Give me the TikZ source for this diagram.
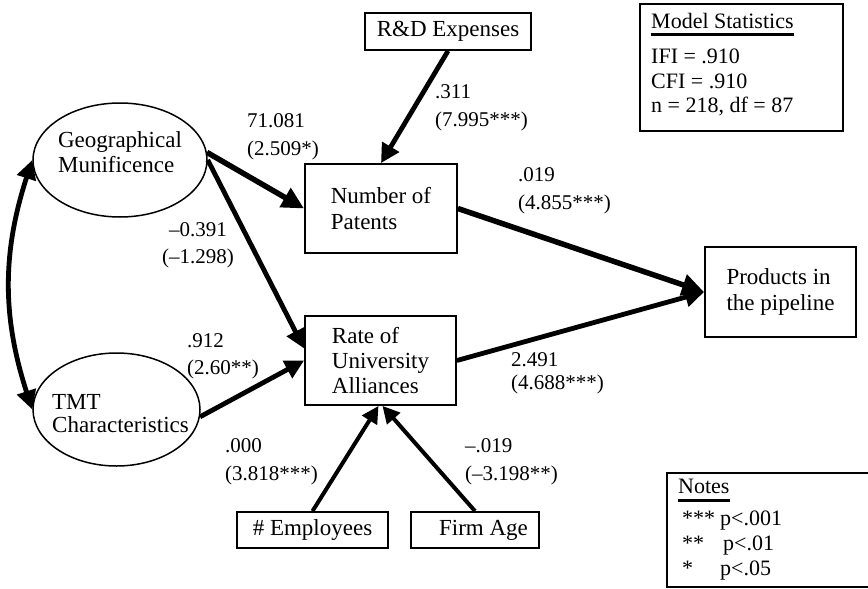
\documentclass[tikz,border=0pt]{standalone}
\usepackage{fontspec}
\setmainfont{Liberation Serif}
\usetikzlibrary{arrows.meta,shapes.geometric}

\begin{document}
\begin{tikzpicture}[x=1pt,y=-1pt,
  box/.style={draw, line width=1.8pt, inner sep=0pt, align=left,
              font=\fontsize{23}{26}\selectfont},
  oval/.style={draw, ellipse, line width=1.5pt, inner sep=0pt},
  ovaltext/.style={inner sep=0pt, align=left, font=\fontsize{23}{25}\selectfont},
  coef/.style={inner sep=0pt, align=left, anchor=north west,
               font=\fontsize{21}{28}\selectfont},
  stat/.style={inner sep=0pt, anchor=base west, font=\fontsize{22}{26}\selectfont},
  frame/.style={draw, line width=1.8pt, inner sep=0pt},
  bigarrow/.style={line width=5.5pt, -{Triangle[length=22pt,width=21pt]}},
  midarrow/.style={line width=4.8pt, -{Triangle[length=19pt,width=19pt]}},
  smallarrow/.style={line width=4pt, -{Triangle[length=17pt,width=17pt]}},
  bothends/.style={line width=4.8pt,
    {Triangle[length=19pt,width=19pt]}-{Triangle[length=19pt,width=19pt]}},
  underbar/.style={line width=3pt},
]
\useasboundingbox (0,0) rectangle (868,589);

% latent constructs
\node[oval, minimum width=174, minimum height=114] (geo) at (120,160) {};
\node[ovaltext] (geotxt) at (120,152) {Geographical\\Munificence};
\node[oval, minimum width=167, minimum height=113] (tmt) at (116.5,409.5) {};
\node[ovaltext, font=\fontsize{23}{23}\selectfont] (tmttxt) at (120.5,414)
  {TMT\\Characteristics};

% observed variables
\node[box, minimum width=166, minimum height=37] (rd) at (448,31.5) {R\&D Expenses};
\node[box, minimum width=152, minimum height=89] (pat) at (381,208.5) {Number of\\Patents};
\node[box, minimum width=151, minimum height=89, font=\fontsize{23}{25}\selectfont]
  (rate) at (380.5,360.5) {Rate of\\University\\Alliances};
\node[box, minimum width=151, minimum height=90] (prod) at (780.5,292)
  {Products in\\the pipeline};
\node[box, minimum width=151, minimum height=36] (emp) at (312.5,530) {\# Employees};
\node[box, minimum width=128, minimum height=36] (age) at (475,530)
  {\hspace*{17pt}Firm Age};

% paths
\draw[bothends] (geo.west) to[bend right=18] (tmt.west);
\draw[bigarrow] (geo.5) -- (pat.west);
\draw[midarrow] (geo.east) -- ([yshift=12pt]rate.west);
\draw[midarrow] (tmt.-5) -- (rate.west);
\draw[midarrow] (rd.south) -- (pat.north);
\draw[bigarrow] (pat.east) -- (prod.west);
\draw[midarrow] (rate.east) -- (prod.west);
\draw[smallarrow] (emp.north) -- ([xshift=-2pt]rate.south);
\draw[smallarrow] (age.north) -- ([xshift=2pt]rate.south);

% path coefficients
\node[coef] (c1) at (247,113.8) {71.081\\(2.509*)};
\node[coef] (c2) at (435,84.8) {.311\\(7.995***)};
\node[coef] (c3) at (518,167.8) {.019\\(4.855***)};
\node[coef, anchor=north, align=center, font=\fontsize{21}{27}\selectfont]
  (c4) at (198,222.8) {–0.391\\(–1.298)};
\node[coef, font=\fontsize{21}{27}\selectfont] (c5) at (187,333.8) {.912\\(2.60**)};
\node[coef, font=\fontsize{21}{23}\selectfont] (c6) at (511,352.8) {2.491\\(4.688***)};
\node[coef] (c7) at (225,438.8) {.000\\(3.818***)};
\node[coef] (c8) at (465,438.8) {–.019\\(–3.198**)};

% model statistics
\node[frame, minimum width=203, minimum height=127] (msbox) at (741.5,67.5) {};
\node[stat] (mst) at (651,28) {Model Statistics};
\draw[underbar] ([yshift=-6pt]mst.base west) -- ([yshift=-6pt]mst.base east);
\node[stat] (ifi) at (651,63) {IFI = .910};
\node[stat] (cfi) at (651,88) {CFI = .910};
\node[stat] (nn) at (651,112) {n = 218, df = 87};

% significance notes
\node[frame, minimum width=210, minimum height=114] (notebox) at (772,530) {};
\node[stat] (nt) at (678,493) {Notes};
\draw[underbar] ([yshift=-7pt]nt.base west) -- ([yshift=-7pt]nt.base east);
\node[stat] (s3) at (682,525) {***};
\node[stat] (p3) at (720,525) {p<.001};
\node[stat] (s2) at (682,550) {**};
\node[stat] (p2) at (723,550) {p<.01};
\node[stat] (s1) at (682,575) {*};
\node[stat] (p1) at (720,575) {p<.05};
\end{tikzpicture}
\end{document}
